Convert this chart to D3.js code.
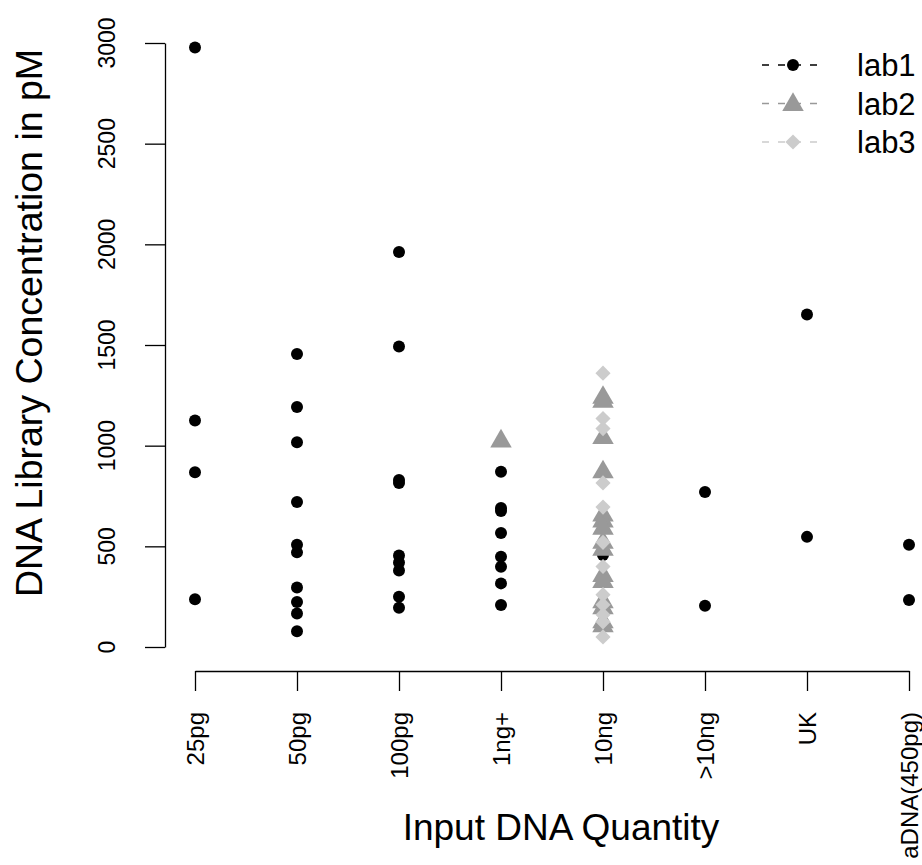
<!DOCTYPE html>
<html>
<head>
<meta charset="utf-8">
<script src="https://cdn.jsdelivr.net/npm/d3@7"></script>
<style>
  html, body { margin: 0; padding: 0; background: #fff; }
  svg { display: block; font-family: "Liberation Sans", Arial, Helvetica, sans-serif; }
</style>
</head>
<body>
<svg id="chart" width="922" height="865"></svg>
<script>
// Input quantity categories along the x axis
const categories = ["25pg", "50pg", "100pg", "1ng+", "10ng", ">10ng", "UK", "aDNA(450pg)"];
const yTicks = [0, 500, 1000, 1500, 2000, 2500, 3000];
const labNames = ["lab1", "lab2", "lab3"];

// lab1 measurements (category, concentration in pM)
const lab1Category = [
  "25pg", "25pg", "25pg", "25pg",
  "50pg", "50pg", "50pg", "50pg", "50pg", "50pg", "50pg", "50pg", "50pg", "50pg",
  "100pg", "100pg", "100pg", "100pg", "100pg", "100pg", "100pg", "100pg", "100pg",
  "1ng+", "1ng+", "1ng+", "1ng+", "1ng+", "1ng+", "1ng+", "1ng+",
  "10ng",
  ">10ng", ">10ng",
  "UK", "UK",
  "aDNA(450pg)", "aDNA(450pg)"
];
const lab1Value = [
  2978, 1125, 868, 237,
  1455, 1192, 1017, 720, 508, 470, 295, 223, 166, 78,
  1962, 1493, 830, 815, 455, 420, 380, 250, 195,
  871, 690, 675, 566, 448, 399, 316, 209,
  457,
  770, 205,
  1652, 547,
  508, 233
];

// lab2 measurements
const lab2Category = [
  "1ng+",
  "10ng", "10ng", "10ng", "10ng", "10ng", "10ng", "10ng", "10ng",
  "10ng", "10ng", "10ng", "10ng", "10ng", "10ng", "10ng"
];
const lab2Value = [
  1028,
  1245, 1225, 1045, 875, 660, 630, 595, 525,
  490, 360, 330, 230, 200, 130, 110
];

// lab3 measurements
const lab3Category = [
  "10ng", "10ng", "10ng", "10ng", "10ng", "10ng",
  "10ng", "10ng", "10ng", "10ng", "10ng", "10ng"
];
const lab3Value = [
  1360, 1135, 1085, 815, 695, 520,
  400, 260, 210, 160, 125, 50
];

const labColors = ["#000000", "#999999", "#cccccc"];

const svg = d3.select("#chart");

const x = d3.scalePoint().domain(categories).range([195, 909]).padding(0);
const y = d3.scaleLinear().domain([0, 3000]).range([647, 43]);

// square rotated 45 degrees, as used for lab3
const diamondSquare = {
  draw(context, size) {
    const r = Math.sqrt(size / 2);
    context.moveTo(0, -r);
    context.lineTo(r, 0);
    context.lineTo(0, r);
    context.lineTo(-r, 0);
    context.closePath();
  }
};
// upward triangle centred on the point
const triUp = {
  draw(context, size) {
    const s = Math.sqrt(size * 4 / Math.sqrt(3));
    const h = s * Math.sqrt(3) / 2;
    context.moveTo(0, -h * 0.6);
    context.lineTo(s / 2, h * 0.4);
    context.lineTo(-s / 2, h * 0.4);
    context.closePath();
  }
};
const symbolTypes = [d3.symbolCircle, triUp, diamondSquare];
const symbolSizes = [Math.PI * 6 * 6, 200, 115];

// Y axis
const yAxis = d3.axisLeft(y).tickValues(yTicks).tickSize(20).tickSizeOuter(0).tickFormat("");
const gy = svg.append("g").attr("transform", "translate(165,0)").call(yAxis);
gy.selectAll("path, line").attr("stroke", "#000").attr("stroke-width", 1.3);
svg.append("g").selectAll("text").data(yTicks).join("text")
  .attr("transform", d => `translate(115,${y(d)}) rotate(-90)`)
  .attr("text-anchor", "middle")
  .attr("font-size", 23)
  .text(d => d);

// X axis
const xAxis = d3.axisBottom(x).tickSize(20).tickSizeOuter(0).tickFormat("");
const gx = svg.append("g").attr("transform", "translate(0,671)").call(xAxis);
gx.selectAll("path, line").attr("stroke", "#000").attr("stroke-width", 1.3);
svg.append("g").selectAll("text").data(categories).join("text")
  .attr("transform", d => `translate(${x(d) + 8.5},712) rotate(-90)`)
  .attr("text-anchor", "end")
  .attr("font-size", 24)
  .text(d => d);

// Axis titles
svg.append("text")
  .attr("x", 561).attr("y", 840)
  .attr("text-anchor", "middle")
  .attr("font-size", 37)
  .text("Input DNA Quantity");
svg.append("text")
  .attr("transform", "translate(42,323) rotate(-90)")
  .attr("text-anchor", "middle")
  .attr("font-size", 37.5)
  .text("DNA Library Concentration in pM");

// Points, drawn lab by lab
const labs = [
  { cats: lab1Category, vals: lab1Value },
  { cats: lab2Category, vals: lab2Value },
  { cats: lab3Category, vals: lab3Value }
];
labs.forEach((lab, i) => {
  const pts = lab.vals.map((v, j) => ({ cat: lab.cats[j], v }));
  svg.append("g").selectAll("path").data(pts).join("path")
    .attr("transform", d => `translate(${x(d.cat)},${y(d.v)})`)
    .attr("d", d3.symbol().type(symbolTypes[i]).size(symbolSizes[i]))
    .attr("fill", labColors[i]);
});

// Legend
const legend = svg.append("g");
labNames.forEach((name, i) => {
  const ly = 65 + i * 38.5;
  legend.append("line")
    .attr("x1", 762).attr("x2", 826).attr("y1", ly).attr("y2", ly)
    .attr("stroke", labColors[i]).attr("stroke-width", 1.3)
    .attr("stroke-dasharray", "7,9");
  legend.append("path")
    .attr("transform", `translate(793,${ly})`)
    .attr("d", d3.symbol().type(symbolTypes[i]).size(symbolSizes[i]))
    .attr("fill", labColors[i]);
  legend.append("text")
    .attr("x", 857).attr("y", ly + 11)
    .attr("font-size", 31)
    .text(name);
});
</script>
</body>
</html>
